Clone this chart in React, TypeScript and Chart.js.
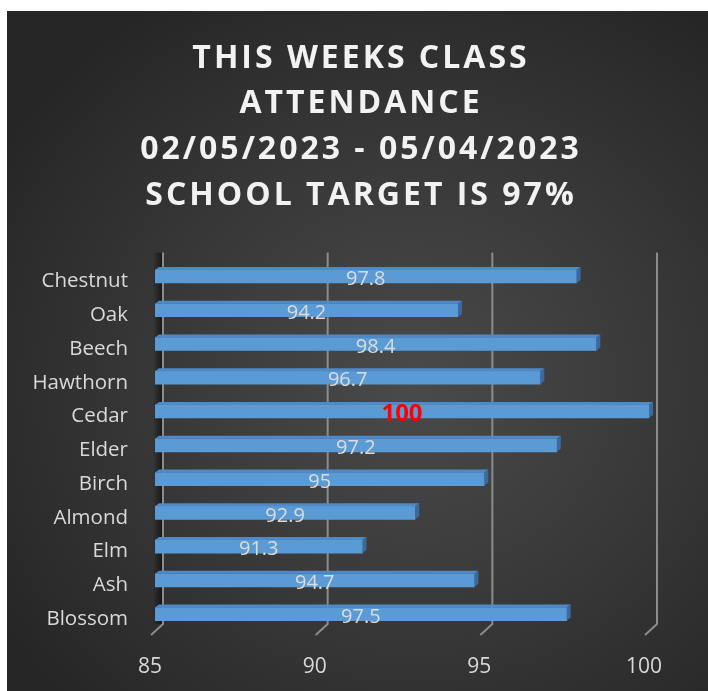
import React, { useEffect, useRef } from "react";
import { Chart, registerables } from "chart.js";

Chart.register(...registerables);

const categories = ["Chestnut", "Oak", "Beech", "Hawthorn", "Cedar", "Elder", "Birch", "Almond", "Elm", "Ash", "Blossom"];
const attendance = [97.8, 94.2, 98.4, 96.7, 100, 97.2, 95, 92.9, 91.3, 94.7, 97.5];
const titleLines = ["THIS WEEKS CLASS", "ATTENDANCE", "02/05/2023 - 05/04/2023", "SCHOOL TARGET IS 97%"];
const xMin = 85;
const xMax = 100;
const xStep = 5;

const FONT = "'Open Sans', 'Noto Sans', sans-serif";
const DEPTH = 8; // back wall offset to the right of the bars' front plane

const titlePlugin = {
  id: "spacedTitle",
  afterDraw(chart: any) {
    const { ctx } = chart;
    ctx.save();
    ctx.font = `bold 32px ${FONT}`;
    (ctx as any).letterSpacing = "3px";
    ctx.fillStyle = "#f2f2f2";
    ctx.textAlign = "center";
    ctx.textBaseline = "middle";
    const cx = 354;
    titleLines.forEach((t, i) => {
      ctx.fillText(t, cx, 47.5 + i * 45.7);
    });
    ctx.restore();
  },
};

const gridPlugin = {
  id: "grid3d",
  beforeDatasetsDraw(chart: any) {
    const { ctx, chartArea } = chart;
    const xs = chart.scales.x;
    ctx.save();
    const lx = xs.getPixelForValue(xMin) + DEPTH;
    const g = ctx.createLinearGradient(lx - 10, 0, lx, 0);
    g.addColorStop(0, "rgba(0,0,0,0)");
    g.addColorStop(1, "rgba(0,0,0,0.6)");
    ctx.fillStyle = g;
    ctx.fillRect(lx - 10, chartArea.top - 7, 10, chartArea.bottom - chartArea.top);
    ctx.strokeStyle = "#8c8c8c";
    ctx.lineWidth = 2;
    for (let v = xMin; v <= xMax; v += xStep) {
      const px = xs.getPixelForValue(v) + DEPTH;
      ctx.beginPath();
      ctx.moveTo(px, chartArea.top - 7);
      ctx.lineTo(px, chartArea.bottom - 7);
      ctx.lineTo(px - 12, chartArea.bottom + 4);
      ctx.stroke();
    }
    ctx.restore();
  },
};

const bar3dPlugin = {
  id: "bar3d",
  afterDatasetsDraw(chart: any) {
    const { ctx } = chart;
    const meta = chart.getDatasetMeta(0);
    const base = chart.scales.x.getPixelForValue(xMin);
    ctx.save();
    meta.data.forEach((el: any, i: number) => {
      const x = el.x;
      const y = el.y;
      const h = el.height;
      const top = y - h / 2;
      const bot = y + h / 2;
      const dx = 4, dy = 3;
      ctx.fillStyle = "#5089c8";
      ctx.beginPath();
      ctx.moveTo(base, top);
      ctx.lineTo(base + dx, top - dy);
      ctx.lineTo(x + dx, top - dy);
      ctx.lineTo(x, top);
      ctx.closePath();
      ctx.fill();
      ctx.fillStyle = "#3b6aa0";
      ctx.beginPath();
      ctx.moveTo(x, top);
      ctx.lineTo(x + dx, top - dy);
      ctx.lineTo(x + dx, bot - dy);
      ctx.lineTo(x, bot);
      ctx.closePath();
      ctx.fill();
      const v = attendance[i];
      const cx = (base + x) / 2;
      ctx.textAlign = "center";
      ctx.textBaseline = "middle";
      if (v >= 100) {
        ctx.fillStyle = "#ff0000";
        ctx.font = `bold 24px ${FONT}`;
        ctx.fillText(String(v), cx, y + 3);
      } else {
        ctx.fillStyle = "#dcdcdc";
        ctx.font = `20px ${FONT}`;
        ctx.fillText(String(v), cx, y + 3);
      }
    });
    ctx.restore();
  },
};

export default function App() {
  const ref = useRef<HTMLCanvasElement>(null);
  useEffect(() => {
    const canvas = ref.current!;
    const chart = new Chart(canvas, {
      type: "bar",
      data: {
        labels: categories,
        datasets: [
          {
            data: attendance,
            backgroundColor: (c: any) => {
              const el = c.element;
              if (!el || el.y === undefined || isNaN(el.y)) return "#5b9bd5";
              const h = el.height || 13;
              const g = c.chart.ctx.createLinearGradient(0, el.y - h / 2, 0, el.y + h / 2);
              g.addColorStop(0, "#4e8ed4");
              g.addColorStop(0.45, "#66a6e6");
              g.addColorStop(1, "#3f79bb");
              return g;
            },
            borderWidth: 0,
            barThickness: 13,
          },
        ],
      },
      options: {
        indexAxis: "y",
        animation: false,
        responsive: false,
        maintainAspectRatio: false,
        layout: { padding: { left: 0, right: 59, top: 248.6, bottom: 0 } },
        plugins: {
          legend: { display: false },
          tooltip: { enabled: false },
          title: { display: false },
        },
        scales: {
          x: {
            type: "linear",
            min: xMin,
            max: xMax,
            ticks: {
              stepSize: xStep,
              color: "#d9d9d9",
              font: { family: FONT, size: 21 },
              labelOffset: -5,
              padding: 15,
            },
            grid: { display: false },
            border: { display: false },
            afterFit: (s: any) => {
              s.height = 60;
            },
          },
          y: {
            ticks: {
              color: "#d9d9d9",
              font: { family: FONT, size: 20.5 },
              padding: 19,
              labelOffset: 5,
            },
            grid: { display: false },
            border: { display: false },
            afterFit: (s: any) => {
              s.width = 148;
            },
          },
        },
      },
      plugins: [gridPlugin, bar3dPlugin, titlePlugin],
    } as any);
    return () => chart.destroy();
  }, []);
  return (
    <div
      style={{
        position: "absolute",
        left: 7,
        top: 11,
        width: 701,
        height: 680,
        background: "radial-gradient(ellipse at 58% 55%, #4a4a4a 0%, #3a3a3a 40%, #262626 85%)",
      }}
    >
      <canvas ref={ref} width={701} height={680} style={{ display: "block" }} />
    </div>
  );
}
